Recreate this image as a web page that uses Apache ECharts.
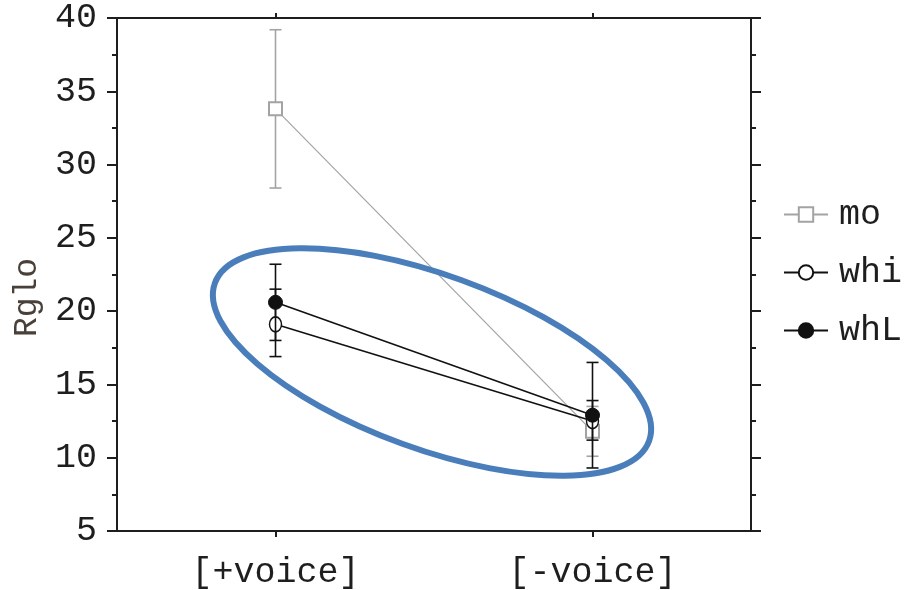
<!DOCTYPE html>
<html>
<head>
<meta charset="utf-8">
<script src="https://cdn.jsdelivr.net/npm/echarts@6/dist/echarts.min.js"></script>
<style>
  html, body { margin: 0; padding: 0; background: #fff; }
  #chart { width: 919px; height: 590px; }
</style>
</head>
<body>
<div id="chart"></div>
<script>
// categories and values
const categories = ['[+voice]', '[-voice]']
const seriesNames = ['mo', 'whi', 'whL']

const moMean = [33.8, 11.8]
const moLow = [28.4, 10.1]
const moHigh = [39.2, 13.5]

const whiMean = [19.1, 12.5]
const whiLow = [16.9, 11.2]
const whiHigh = [21.5, 13.9]

const whLMean = [20.6, 12.9]
const whLLow = [18.0, 9.3]
const whLHigh = [23.2, 16.5]

const yTicks = [5, 10, 15, 20, 25, 30, 35, 40]

const font = 'Liberation Mono'
const ink = '#1e1e1e'

// error bar rows: [category index, low, high]
function errRows(low, high) {
  return low.map((v, i) => [i, v, high[i]])
}

function errRender(color) {
  return function (params, api) {
    const i = api.value(0)
    const lo = api.coord([i, api.value(1)])
    const hi = api.coord([i, api.value(2)])
    const w = 6
    const style = { stroke: color, lineWidth: 1.6 }
    return {
      type: 'group',
      children: [
        { type: 'line', shape: { x1: lo[0], y1: lo[1], x2: hi[0], y2: hi[1] }, style },
        { type: 'line', shape: { x1: lo[0] - w, y1: lo[1], x2: lo[0] + w, y2: lo[1] }, style },
        { type: 'line', shape: { x1: hi[0] - w, y1: hi[1], x2: hi[0] + w, y2: hi[1] }, style },
      ],
    }
  }
}

const axisLine = { show: true, lineStyle: { color: ink, width: 2 } }

const chart = echarts.init(document.getElementById('chart'), null, { renderer: 'canvas' })

const option = {
  backgroundColor: '#fff',
  animation: false,
  grid: { left: 117, right: 168, top: 18, bottom: 59 },
  legend: {
    data: seriesNames,
    orient: 'vertical',
    left: 778,
    top: 192,
    itemWidth: 44,
    itemHeight: 18,
    itemGap: 23,
    textStyle: { fontFamily: font, fontSize: 35, color: ink, padding: [0, 0, 0, 6] },
  },
  xAxis: [
    {
      type: 'category',
      data: categories,
      position: 'bottom',
      axisLine,
      axisTick: { show: true, alignWithLabel: true, length: 6, lineStyle: { color: ink, width: 2 } },
      axisLabel: { fontFamily: font, fontSize: 35, color: ink, margin: 24 },
      splitLine: { show: false },
    },
    {
      type: 'category',
      data: categories,
      position: 'top',
      axisLine,
      axisTick: { show: true, alignWithLabel: true, length: 5, lineStyle: { color: ink, width: 2 } },
      axisLabel: { show: false },
      splitLine: { show: false },
    },
  ],
  yAxis: [
    {
      type: 'value',
      min: yTicks[0],
      max: yTicks[yTicks.length - 1],
      interval: 5,
      position: 'left',
      name: 'Rglo',
      nameLocation: 'middle',
      nameGap: 67,
      nameTextStyle: { fontFamily: font, fontSize: 33, color: '#4a403a', padding: [0, 46, 0, 0] },
      axisLine,
      axisTick: { show: true, length: 10, lineStyle: { color: ink, width: 2 } },
      minorTick: { show: true, splitNumber: 2, length: 5, lineStyle: { color: ink, width: 2 } },
      axisLabel: { fontFamily: font, fontSize: 35, color: ink, margin: 20 },
      splitLine: { show: false },
    },
    {
      type: 'value',
      min: yTicks[0],
      max: yTicks[yTicks.length - 1],
      interval: 5,
      position: 'right',
      axisLine,
      axisTick: { show: true, length: 10, lineStyle: { color: ink, width: 2 } },
      minorTick: { show: true, splitNumber: 2, length: 5, lineStyle: { color: ink, width: 2 } },
      axisLabel: { show: false },
      splitLine: { show: false },
    },
  ],
  series: [
    {
      name: 'mo-err',
      type: 'custom',
      renderItem: errRender('#a3a3a3'),
      data: errRows(moLow, moHigh),
      z: 2,
    },
    {
      name: 'mo',
      type: 'line',
      data: moMean,
      symbol: 'rect',
      symbolSize: 13,
      color: '#a3a3a3',
      lineStyle: { color: '#a3a3a3', width: 1.2 },
      itemStyle: { color: '#fff', borderColor: '#a3a3a3', borderWidth: 2 },
      z: 3,
    },
    {
      name: 'whi-err',
      type: 'custom',
      renderItem: errRender('#111'),
      data: errRows(whiLow, whiHigh),
      z: 4,
    },
    {
      name: 'whi',
      type: 'line',
      data: whiMean,
      symbol: 'circle',
      symbolSize: [12, 15],
      color: '#111',
      lineStyle: { color: '#111', width: 1.6 },
      itemStyle: { color: '#fff', borderColor: '#111', borderWidth: 1.6 },
      z: 5,
    },
    {
      name: 'whL-err',
      type: 'custom',
      renderItem: errRender('#111'),
      data: errRows(whLLow, whLHigh),
      z: 6,
    },
    {
      name: 'whL',
      type: 'line',
      data: whLMean,
      symbol: 'circle',
      symbolSize: 14,
      color: '#111',
      lineStyle: { color: '#111', width: 1.6 },
      itemStyle: { color: '#111', borderColor: '#111', borderWidth: 1 },
      z: 7,
    },
  ],
  graphic: [
    {
      // hand-drawn highlight round the two wh series
      type: 'ellipse',
      x: 432,
      y: 362,
      rotation: -0.349,
      shape: { cx: 0, cy: 0, rx: 231, ry: 87 },
      style: { fill: 'none', stroke: '#4a7ebb', lineWidth: 6 },
      z: 100,
    },
  ],
}

chart.setOption(option)
</script>
</body>
</html>
